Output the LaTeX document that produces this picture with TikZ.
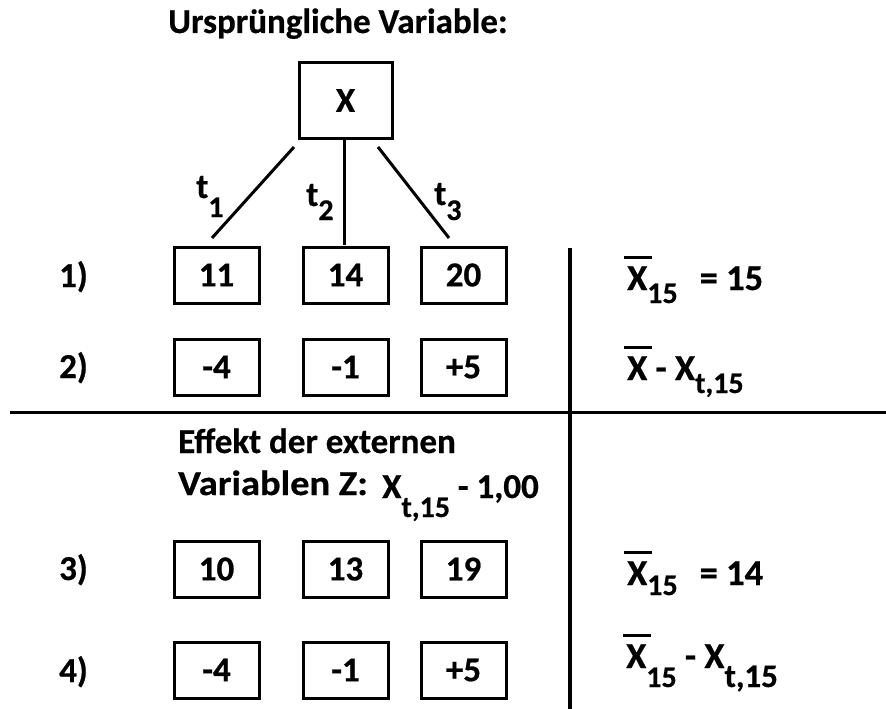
\documentclass[tikz,border=0pt]{standalone}
\usepackage{graphicx}
\usepackage{fontspec}
\setmainfont{Carlito}[BoldFont=* Bold, BoldFeatures={FakeBold=0.6}]
% letter X with a bar over it
\newcommand\xbar{\makebox[0pt][l]{\kern-3pt\rule[31pt]{28pt}{3pt}}X}
% lowered index; optional argument is the drop
\newcommand\idx[2][13pt]{\raisebox{-#1}{\fontsize{30}{32}\selectfont #2}}
\begin{document}
\begin{tikzpicture}[x=1pt,y=-1pt,
  every node/.style={font=\fontsize{35}{40}\selectfont\bfseries, inner sep=0pt},
  txt/.style={anchor=base west},
  mean/.style={txt, font=\fontsize{36.5}{40}\selectfont\bfseries},
  valbox/.style={draw, line width=3pt, minimum width=85pt, minimum height=56pt},
  branch/.style={line width=3pt},
  rule/.style={line width=3.5pt}]
\useasboundingbox (0,0) rectangle (886,709);

% original variable
\node[txt] (title) at (168,33) {Ursprüngliche Variable:};
\node[draw, line width=3pt, minimum width=93pt, minimum height=75pt] (x) at (345.5,100.5) {X};

\coordinate (b1) at (294,147);
\coordinate (e1) at (212,238);
\coordinate (b2) at (344,138);
\coordinate (e2) at (344,245);
\coordinate (b3) at (378,147);
\coordinate (e3) at (449,238);
\draw[branch] (b1) -- (e1);
\draw[branch] (b2) -- (e2);
\draw[branch] (b3) -- (e3);
\node[txt] (t1) at (196,198) {t\idx[19pt]{1}};
\node[txt] (t2) at (306,206) {t\idx[14pt]{2}};
\node[txt] (t3) at (434,205) {t\idx[15pt]{3}};

% row labels
\node[txt] (l1) at (59,287) {1)};
\node[txt] (l2) at (59,378) {2)};
\node[txt] (l3) at (59,580) {3)};
\node[txt] (l4) at (59,682) {4)};

% value boxes
\node[valbox] (r1a) at (216.5,275) {11};
\node[valbox] (r1b) at (345.5,275) {14};
\node[valbox] (r1c) at (463.5,275) {20};
\node[valbox] (r2a) at (216.5,367) {-4};
\node[valbox] (r2b) at (345.5,367) {-1};
\node[valbox] (r2c) at (463.5,367) {+5};
\node[valbox] (r3a) at (216.5,569) {10};
\node[valbox] (r3b) at (345.5,569) {13};
\node[valbox] (r3c) at (463.5,569) {19};
\node[valbox] (r4a) at (216.5,670) {-4};
\node[valbox] (r4b) at (345.5,670) {-1};
\node[valbox] (r4c) at (463.5,670) {+5};

% separating lines
\coordinate (hl) at (10,412.5);
\coordinate (hr) at (886,412.5);
\coordinate (vt) at (570,248);
\coordinate (vb) at (570,709);
\draw[rule] (hl) -- (hr);
\draw[rule] (vt) -- (vb);

% effect of the external variable
\node[txt] (e1t) at (178,453) {Effekt der externen};
\node[txt] (e2t) at (178,495) {\scalebox{1.1}[1]{Variablen Z:}};
\node[txt] (e3t) at (382,498) {X\idx[19pt]{t,15} - 1,00};

% means
\node[mean] (m1) at (627,290) {\xbar\idx{15}\hspace{22pt}= 15};
\node[mean] (m2) at (627,380) {\xbar{} - X\idx{t,15}};
\node[mean] (m3) at (627,585) {\xbar\idx[10pt]{15}\hspace{22pt}= 14};
\node[mean] (m4) at (626,668) {\xbar\idx[19pt]{15} - X\idx[19pt]{\fontsize{33}{35}\selectfont t,15}};
\end{tikzpicture}
\end{document}
